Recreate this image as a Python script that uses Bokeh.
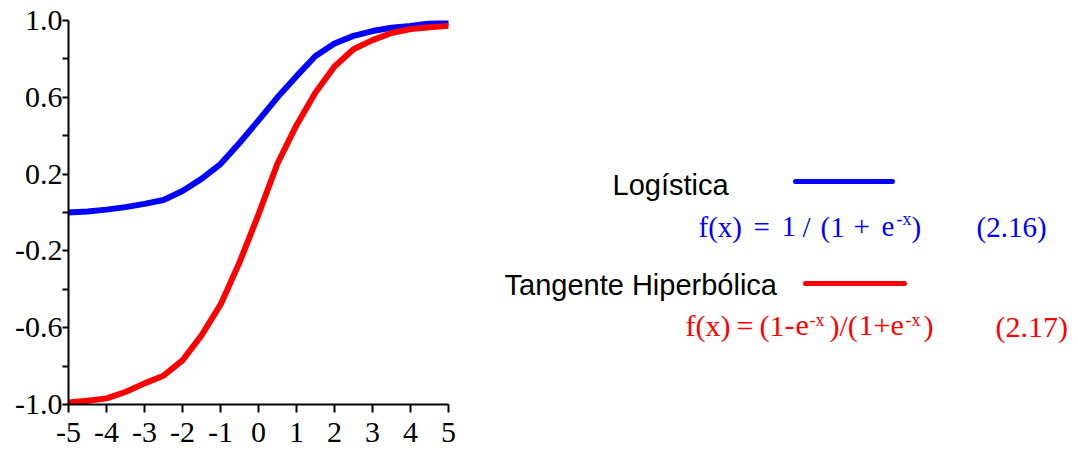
from bokeh.plotting import figure
from bokeh.models import Range1d, FixedTicker, PrintfTickFormatter, Label
from bokeh.layouts import row
from bokeh.embed import file_html
from bokeh.resources import INLINE

# ---------------- data ----------------
x_vals = [-5.0, -4.5, -4.0, -3.5, -3.0, -2.5, -2.0, -1.5, -1.0, -0.5,
          0.0, 0.5, 1.0, 1.5, 2.0, 2.5, 3.0, 3.5, 4.0, 4.5, 5.0]
logistic_y = [0.0, 0.005, 0.015, 0.028, 0.045, 0.065, 0.112, 0.175, 0.252, 0.362,
              0.48, 0.60, 0.71, 0.815, 0.88, 0.92, 0.945, 0.962, 0.972, 0.985, 0.99]
tanh_y = [-0.99, -0.98, -0.968, -0.935, -0.89, -0.85, -0.77, -0.64, -0.48, -0.26,
          -0.01, 0.255, 0.455, 0.625, 0.76, 0.85, 0.898, 0.935, 0.955, 0.965, 0.972]

x_ticks = [-5, -4, -3, -2, -1, 0, 1, 2, 3, 4, 5]
y_label_ticks = [-1.0, -0.6, -0.2, 0.2, 0.6, 1.0]
y_minor_ticks = [-0.8, -0.4, 0.0, 0.4, 0.8]

series_names = ["Logística", "Tangente Hiperbólica"]
series_colors = ["#0000ff", "#ff0000"]
equation_numbers = ["(2.16)", "(2.17)"]

SANS = "Liberation Sans"
SERIF = "Liberation Serif"

# ---------------- main plot ----------------
p = figure(width=468, height=452,
           x_range=Range1d(-5, 5), y_range=Range1d(-1, 1),
           output_backend="svg", toolbar_location=None,
           min_border_left=68, min_border_right=20,
           min_border_top=20, min_border_bottom=48)
p.outline_line_color = None
p.grid.visible = False
p.background_fill_color = "white"
p.border_fill_color = "white"

p.line(x_vals, logistic_y, line_color=series_colors[0], line_width=6,
       line_cap="round", line_join="round")
p.line(x_vals, tanh_y, line_color=series_colors[1], line_width=6,
       line_cap="round", line_join="round")

p.xaxis.ticker = FixedTicker(ticks=x_ticks)
p.xaxis.formatter = PrintfTickFormatter(format="%d")
p.yaxis.ticker = FixedTicker(ticks=y_label_ticks, minor_ticks=y_minor_ticks)
p.yaxis.formatter = PrintfTickFormatter(format="%.1f")

for ax in (p.xaxis[0], p.yaxis[0]):
    ax.axis_line_color = "black"
    ax.axis_line_width = 2
    ax.major_tick_line_color = "black"
    ax.major_tick_line_width = 2
    ax.major_tick_in = 0
    ax.minor_tick_in = 0
    ax.major_label_text_font = SERIF
    ax.major_label_text_font_size = "30px"
    ax.major_label_text_color = "black"

p.xaxis.major_tick_out = 8
p.xaxis.minor_tick_line_color = None
p.xaxis.major_label_standoff = 10
p.yaxis.major_tick_out = 6
p.yaxis.minor_tick_out = 6
p.yaxis.minor_tick_line_color = "black"
p.yaxis.minor_tick_line_width = 2
p.yaxis.major_label_standoff = 0

# ---------------- legend panel (coordinates = page pixels) ----------------
# the row aligns this panel's frame with the plot frame (page y 20..404)
q = figure(width=610, height=452,
           x_range=Range1d(468, 1078), y_range=Range1d(404, 20),
           output_backend="svg", toolbar_location=None,
           min_border_left=0, min_border_right=0,
           min_border_top=20, min_border_bottom=48,
           x_axis_location=None, y_axis_location=None)
q.outline_line_color = None
q.grid.visible = False
q.background_fill_color = "white"
q.border_fill_color = "white"


def lab(fig, text, x, y, size, color, font):
    fig.add_layout(Label(x=x, y=y, text=text, text_font=font,
                         text_font_size=size, text_color=color,
                         text_align="left", text_baseline="alphabetic"))


# series names + swatches
lab(q, series_names[0], 612, 184, "29px", "black", SANS)
lab(q, series_names[1], 504, 284, "29px", "black", SANS)
q.segment(x0=[795], y0=[181], x1=[892], y1=[181], line_color=series_colors[0],
          line_width=5, line_cap="round")
q.segment(x0=[805], y0=[283], x1=[904], y1=[283], line_color=series_colors[1],
          line_width=5, line_cap="round")

# logistic formula
c = series_colors[0]
for t, x in [("f(x)", 698), ("=", 753), ("1", 781), ("/", 802), ("(1", 820),
             ("+", 853), ("e", 881), (")", 911)]:
    lab(q, t, x, 226, "29px", c, SERIF)
lab(q, "-x", 896, 218, "18px", c, SERIF)
lab(q, equation_numbers[0], 976, 226, "29px", c, SERIF)

# tanh formula
c = series_colors[1]
for t, x in [("f(x)", 685), ("=", 736), ("(1", 759), ("-", 784), ("e", 795),
             (")/(", 829), ("1+e", 858), (")", 923)]:
    lab(q, t, x, 325, "30px", c, SERIF)
lab(q, "-x", 809, 319, "18px", c, SERIF)
lab(q, "-x", 905, 319, "18px", c, SERIF)
lab(q, equation_numbers[1], 995, 326, "30px", c, SERIF)

layout = row(p, q)
open("out.html", "w").write(file_html(layout, INLINE))
